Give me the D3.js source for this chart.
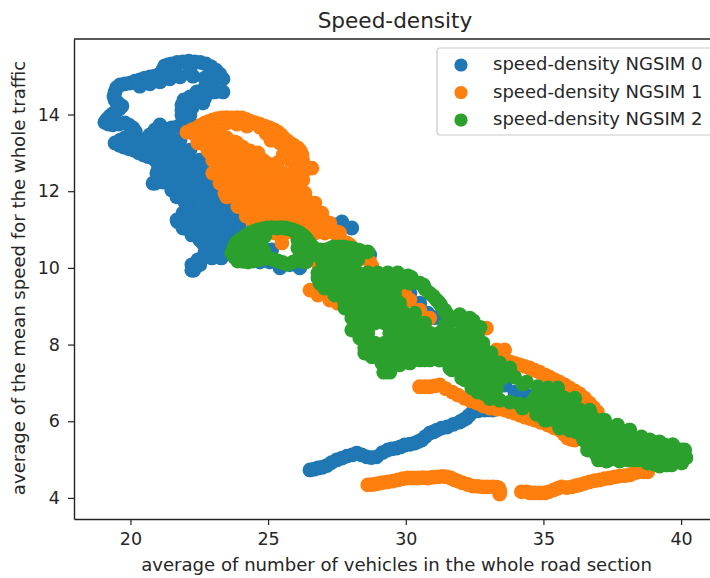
<!DOCTYPE html>
<html><head><meta charset="utf-8">
<script src="https://cdn.jsdelivr.net/npm/d3@7"></script>
<style>
html,body{margin:0;padding:0;background:#fff;overflow:hidden}
text{font-family:"DejaVu Sans",sans-serif;fill:#262626}
</style></head><body><div id="chart"></div>
<script>
const title="Speed-density";
const xLabel="average of number of vehicles in the whole road section";
const yLabel="average of the mean speed for the whole traffic";
const seriesNames=["speed-density NGSIM 0","speed-density NGSIM 1","speed-density NGSIM 2"];
const seriesColors=["#1f77b4","#ff7f0e","#2ca02c"];
const xTicks=[20,25,30,35,40];
const yTicks=[4,6,8,10,12,14];
const xDomain=[17.95,41.05];
const yDomain=[3.45,15.97];

const ngsim0=[[23.36,14.93],[23.1,15.16],[22.74,15.32],[22.34,15.37],[21.91,15.37],[21.51,15.32],[21.25,15.27],[21.07,15.06],[20.71,14.98],[20.34,14.9],[19.98,14.82],[19.62,14.77],[19.44,14.59],[19.44,14.38],[19.69,14.22],[19.47,14.07],[19.26,13.96],[19.07,13.8],[19.36,13.73],[19.8,13.78],[20.09,13.65],[20.2,13.44],[19.8,13.39],[19.44,13.26],[19.76,13.15],[20.13,13.07],[20.49,12.94],[20.82,12.86],[21,12.55],[20.89,12.21],
[23.25,15.05],[22.92,15.25],[22.54,15.36],[22.12,15.39],[21.7,15.36],[21.38,15.3],[21.18,15.17],[20.88,15],[20.52,14.95],[20.16,14.87],[19.8,14.8],[19.5,14.7],[19.4,14.48],[19.55,14.3],[19.6,14.15],[19.36,14.02],[19.15,13.88],[19.2,13.75],[19.58,13.75],[19.95,13.72],[20.18,13.55],[20,13.42],[19.62,13.33],[19.6,13.2],[19.95,13.11],[20.3,13],[20.65,12.9],
[21.07,13.6],[21.5,13.65],[21.98,13.86],[21.87,14.12],[21.94,14.38],[22.38,14.43],[22.67,14.59],[23.07,14.59],[23.36,14.59],[20.34,14.74],[20.71,14.8],[21.07,14.85],[21.43,14.93],[21.8,14.98],[22.27,15],[22.7,14.95],[23,14.85],[22.7,14.7],[22.16,15.21],[21.61,15.16],[21.9,13.98],[21.9,14.25],[22.15,14.42],[22.5,14.5],[22.9,14.6],[21.3,13.62],[21.75,13.7],
[22.41,14.59],[22.16,14.46],[22.7,14.43],[23,14.59],[22.63,14.3],[22.23,14.17],[21.87,14.25],[22.12,14.25],[21.87,13.99],[22.16,13.99],[21.91,13.73],[22.23,13.73],[19.8,13.33],[20.16,13.33],[20.53,13.28],[20.89,13.6],[21.07,13.73],[20.71,13.47],
[20.82,13.33],[21.18,13.33],[21.54,13.33],[21.8,13.33],[20.71,13.07],[21.07,13.07],[21.43,13.07],[21.8,13.07],[22.16,13.07],[21.07,12.81],[21.43,12.81],[21.8,12.81],[22.16,12.81],[22.52,12.81],[22.89,12.81],[23.07,12.81],[21.25,12.55],[21.61,12.55],[21.98,12.55],[22.34,12.55],[22.7,12.55],[23,12.55],[21.25,12.29],[21.61,12.29],[21.98,12.29],[22.34,12.29],[22.7,12.29],[23.07,12.29],[21.5,12.03],[21.87,12.03],[22.23,12.03],[22.6,12.03],[22.96,12.03],[23.25,12.03],[21.8,11.87],[22.16,11.85],[22.52,11.85],[22.89,11.85],[23.25,11.85],[23.61,11.85],[23.97,11.85],[22.16,11.64],[22.52,11.64],[22.89,11.64],[23.25,11.64],[23.61,11.64],[23.97,11.64],[21.98,11.38],[22.34,11.38],[22.7,11.38],[23.07,11.38],[23.43,11.38],[23.79,11.38],[21.72,11.2],[22.16,11.2],[22.52,11.2],[22.89,11.2],[23.25,11.2],[23.61,11.2],[24,11.2],[22.16,10.99],[22.52,10.99],[22.89,10.99],[23.25,10.99],[23.61,10.99],[23.97,10.99],[22.52,10.73],[22.89,10.73],[23.25,10.73],[23.61,10.73],[22.74,10.47],[23.1,10.47],[23.4,10.47],[22.63,10.26],[22.96,10.26],[23.3,10.26],[22.23,10.08],[22.52,10.08],[22.3,9.94],
[20.96,12.76],[20.96,12.47],[20.82,12.21],[21.18,12.24],[21.69,11.85],[21.98,11.72],[21.91,11.43],[21.69,11.25],[21.91,11.04],[22.23,10.86],[22.63,10.65],[22.7,10.39],[22.45,10.21],[22.23,9.94],
[24.7,10.15],[25.06,10.15],[25.43,10],[25.79,10.08],[26.15,10],[25.13,10.47],[27.42,11.12],[27.68,11.2],[28.04,11.04],[28.69,10.34],[30.15,9.34],[30.51,9.08],[30.8,8.82],[31.05,8.7],[33.6,6.94],[33.96,6.76],[34.2,6.76],[34.5,6.66],
[33.16,6.29],[32.87,6.29],[32.43,6.24],[32.2,6.08],[31.96,5.98],[31.5,5.85],[31.13,5.77],[30.87,5.69],[30.58,5.51],[30.33,5.43],[29.96,5.38],[29.67,5.3],[29.35,5.25],[28.94,5.07],[28.58,5.07],[28.22,5.17],[27.86,5.09],[27.49,4.99],[27.13,4.84],[26.81,4.78],[26.52,4.73],
[33,6.3],[32.65,6.27],[32.3,6.15],[32.08,6.03],[31.73,5.92],[31.3,5.82],[31,5.72],[30.72,5.6],[30.45,5.47],[30.15,5.4],[29.8,5.33],[29.5,5.28],[29.15,5.18],[28.75,5.05],[28.4,5.12],[28.05,5.12],[27.68,5.04],[27.3,4.92],[26.97,4.8],[26.67,4.75],[32.5,6.38],[32.8,6.42]];

const ngsim1=[[22.05,13.54],[22.41,13.65],[22.7,13.78],[22.99,13.86],[23.32,13.91],[23.68,13.91],[24.05,13.91],[24.34,13.83],[24.7,13.75],[25.06,13.65],[25.36,13.54],[25.57,13.39],[25.79,13.26],[26.08,13.13],[26.23,12.95],[26.23,12.68],[26.59,12.6],[25.54,12.94],
[22.23,13.6],[22.55,13.72],[22.85,13.82],[23.15,13.89],[23.5,13.92],[23.87,13.92],[24.2,13.87],[24.52,13.79],[24.88,13.7],[25.22,13.6],[25.47,13.47],[25.68,13.32],[25.93,13.2],[26.17,13.05],[26.25,12.82],[26.4,12.63],
[23.5,13.39],[23.79,13.28],[24.08,13.15],[24.34,13.05],[24.6,12.92],[24.81,12.81],[24.96,12.63],[25.25,12.5],[23.5,13.78],[23.87,13.75],[24.23,13.7],[24.7,13.67],[24.92,13.52],[25.1,13.33],[25.43,13.26],[25.79,13.07],[25.57,12.89],[25.79,12.81],[26.04,13],[26.04,12.68],
[22.27,13.52],[22.63,13.52],[23,13.52],[23.25,13.52],[22.45,13.26],[22.8,13.26],[23.16,13.26],[23.5,13.26],[23.87,13.26],[22.89,13],[23.25,13],[23.61,13],[23.97,13],[24.34,13],[24.63,13],[23.14,12.73],[23.5,12.73],[23.87,12.73],[24.23,12.73],[24.6,12.73],[24.96,12.73],[25.32,12.73],[22.99,12.47],[23.35,12.47],[23.72,12.47],[24.08,12.47],[24.45,12.47],[24.81,12.47],[25.17,12.47],[25.54,12.47],[25.9,12.47],[26.26,12.47],[23.25,12.21],[23.61,12.21],[23.97,12.21],[24.34,12.21],[24.7,12.21],[25.06,12.21],[25.43,12.21],[25.79,12.21],[26.15,12.21],[23.43,11.95],[23.79,11.95],[24.16,11.95],[24.52,11.95],[24.88,11.95],[25.25,11.95],[25.61,11.95],[25.97,11.95],[26.34,11.95],[23.97,11.69],[24.34,11.69],[24.7,11.69],[25.06,11.69],[25.43,11.69],[25.79,11.69],[26.15,11.69],[26.52,11.69],[26.7,11.69],[24.23,11.43],[24.6,11.43],[24.96,11.43],[25.32,11.43],[25.68,11.43],[26.05,11.43],[26.41,11.43],[26.77,11.43],[26.95,11.43],[24.45,11.17],[24.81,11.17],[25.17,11.17],[25.54,11.17],[25.9,11.17],[26.26,11.17],[26.63,11.17],[26.99,11.17],[27.24,11.17],[24.52,10.91],[24.88,10.91],[25.25,10.91],[25.61,10.91],[25.97,10.91],[26.34,10.91],[26.7,10.91],[27.06,10.91],[27.42,10.91],[27.6,10.91],
[26.26,12.29],[26.3,11.85],[26.73,11.51],[27.1,11.2],[27.5,10.94],[27.86,10.65],[22.45,13.33],[22.81,13.07],[22.99,12.81],[23.5,11.85],[23.9,11.6],[24.2,11.35],
[25.5,10.65],[27.6,10.73],[27.97,10.6],[28.33,10.34],[28.69,10.16],[28.77,10.05],[26.77,10.15],[27.42,10],[26.52,9.42],[26.81,9.29],[27.24,9.16],[27.53,9.08],[26.95,9.68],[29.17,9.42],[29.96,9.34],[30.15,9.16],[30.51,8.9],[30.87,8.69],[30.03,7.95],[32.93,8.43],[33.3,7.86],[33.59,7.86],[33.6,7.52],
[33.78,7.55],[34.14,7.47],[34.5,7.39],[34.86,7.28],[35.23,7.15],[35.59,7.02],[35.95,6.87],[36.32,6.71],[36.68,6.47],[36.96,6.24],[33.96,7.51],[34.32,7.43],[34.68,7.33],[35.05,7.21],[35.41,7.08],[35.77,6.95],[36.14,6.79],[36.5,6.6],[36.82,6.36],
[30.5,6.9],[30.87,6.9],[31.23,6.95],[31.69,6.76],[32.14,6.6],[32.6,6.47],[33.05,6.34],[33.6,6.29],[33.96,6.21],[34.32,6.11],[34.68,6.03],[35.16,5.9],[35.59,5.77],[35.88,5.56],[36.14,5.51],[30.68,6.9],[31.05,6.92],[31.45,6.85],[31.9,6.68],[32.37,6.53],[32.82,6.4],[33.3,6.31],[33.78,6.25],[34.14,6.16],[34.5,6.07],[34.9,5.97],[35.38,5.83],[35.75,5.66],[36,5.53],
[38.79,4.68],[38.49,4.68],[38.13,4.6],[37.77,4.57],[37.41,4.52],[37.04,4.47],[36.68,4.42],[36.32,4.34],[36.03,4.29],[35.66,4.29],[35.38,4.21],[35.05,4.13],[34.68,4.13],[34.39,4.16],[34.2,4.16],[38.64,4.68],[38.3,4.65],[37.95,4.58],[37.6,4.55],[37.22,4.5],[36.86,4.45],[36.5,4.38],[36.18,4.32],[35.85,4.27],[35.52,4.25],[35.2,4.16],[34.86,4.13],[34.52,4.13],
[28.62,4.34],[28.98,4.37],[29.35,4.42],[29.71,4.47],[30.07,4.52],[30.44,4.52],[30.8,4.52],[31.16,4.55],[31.49,4.55],[31.78,4.47],[32.07,4.39],[32.43,4.31],[32.8,4.29],[33.16,4.29],[33.38,4.26],[33.41,4.1],[28.8,4.35],[29.16,4.4],[29.53,4.44],[29.89,4.5],[30.25,4.52],[30.62,4.53],[30.98,4.54],[31.33,4.56],[31.64,4.52],[31.92,4.43],[32.25,4.35],[32.62,4.3],[32.98,4.29],[33.3,4.28],[33.42,4.18]];

const ngsim2=[[23.68,10.39],[23.83,10.65],[24.08,10.78],[24.34,10.91],[24.63,10.99],[24.96,11.04],[25.32,11.04],[25.61,11.04],[25.9,10.99],[26.15,10.91],[26.37,10.78],[26.52,10.63],[26.73,10.47],[27.1,10.47],[27.38,10.55],[27.75,10.55],[28.11,10.5],[28.47,10.42],[28.62,10.42],[28.26,10.21],[27.9,10.13],
[23.75,10.52],[23.95,10.72],[24.2,10.85],[24.48,10.95],[24.8,11.02],[25.14,11.05],[25.47,11.05],[25.76,11.02],[26.03,10.95],[26.27,10.85],[26.45,10.7],[26.62,10.55],[26.9,10.47],[27.24,10.5],[27.56,10.55],[27.93,10.52],[28.3,10.46],[24.1,10.17],[24.45,10.18],[24.82,10.24],[25.18,10.22],[25.52,10.14],[25.9,10.15],[26.22,10.18],[23.78,10.28],
[23.9,10.18],[24.27,10.15],[24.63,10.21],[25,10.26],[25.35,10.18],[25.7,10.1],[26.08,10.21],[26.37,10.15],[24.16,10.47],[24.52,10.6],[24.77,10.73],[24.52,10.42],[24.88,10.83],[26.08,10.73],[26.08,10.52],[26.26,10.42],[26.59,10.34],[26.95,10.21],[24.3,10.35],[24.85,10.45],[24.8,10.4],
[27.24,10.08],[27.6,10.08],[27.97,10.08],[26.81,9.87],[27.17,9.87],[27.53,9.87],[27.9,9.87],[28.26,9.87],[28.62,9.87],[28.98,9.87],[29.35,9.87],[29.71,9.87],[30.08,9.79],[27,10.1],[27.3,10.25],[27.7,10.28],[28.05,10.28],
[26.88,9.6],[27.24,9.6],[27.6,9.6],[27.97,9.6],[28.33,9.6],[28.69,9.6],[29.06,9.6],[29.42,9.6],[29.78,9.6],[30.15,9.6],[30.51,9.6],
[27.42,9.34],[27.78,9.34],[28.15,9.34],[28.51,9.34],[28.87,9.34],[29.24,9.34],[29.6,9.34],[30.87,9.34],[31.12,9.16],[31.41,8.9],[31.6,8.69],[30.7,9.45],[31,9.26],[31.27,9.03],[31.5,8.8],
[27.78,9.08],[28.15,9.08],[28.51,9.08],[28.87,9.08],[29.24,9.08],[29.6,9.08],[29.78,9.08],
[28.15,8.82],[28.51,8.82],[28.87,8.82],[29.24,8.82],[29.6,8.82],[29.96,8.82],[30.33,8.82],
[28.15,8.56],[28.51,8.56],[28.87,8.56],[29.24,8.56],[29.6,8.56],[29.96,8.56],[30.33,8.56],[30.69,8.56],[31.41,8.5],[31.78,8.64],[32.14,8.55],[32.5,8.5],[31.96,8.78],[32.32,8.69],[32.7,8.45],
[28.33,8.3],[28.62,8.3],[29.42,8.3],[29.78,8.3],[30.15,8.3],[30.51,8.3],[30.87,8.3],[31.23,8.3],[31.6,8.3],[31.96,8.3],[32.32,8.3],[32.6,8.3],
[28.51,8.04],[28.87,8.04],[29.24,8.04],[29.6,8.04],[29.96,8.04],[30.33,8.04],[30.69,8.04],[31.05,8.04],[31.41,8.04],[31.78,8.04],[32.14,8.04],[32.5,8.04],[32.8,8.04],
[28.51,7.78],[28.87,7.78],[29.24,7.78],[29.6,7.78],[29.96,7.78],[30.33,7.78],[30.69,7.78],[31.05,7.78],[31.41,7.78],[31.78,7.78],[32.14,7.78],[32.5,7.78],[32.87,7.78],[33.1,7.78],
[29.13,7.52],[29.49,7.52],[29.85,7.52],[30.15,7.52],[30.51,7.6],[30.87,7.6],[31.23,7.6],[31.6,7.6],[31.96,7.52],[32.32,7.52],[32.69,7.52],[33.05,7.52],[33.41,7.52],
[31.6,7.39],[31.96,7.39],[32.32,7.39],[32.69,7.39],[33.05,7.39],[33.41,7.39],[33.78,7.39],[29.2,7.28],[29.42,7.28],
[32.03,7.13],[32.4,7.13],[32.76,7.13],[33.12,7.13],[33.49,7.13],[33.96,7.15],[34.39,7.02],[34.79,6.9],
[32.4,6.87],[32.76,6.87],[33.12,6.87],[33.3,6.85],[35.16,6.87],[35.52,6.87],
[33.05,6.6],[33.41,6.55],[33.78,6.5],[34.14,6.45],[34.5,6.45],[34.68,6.6],[35.05,6.6],[35.41,6.6],[35.77,6.6],[36.14,6.6],[32.85,6.72],
[34.86,6.29],[35.23,6.29],[35.59,6.29],[35.95,6.29],[36.32,6.29],[36.68,6.29],
[35.05,6.03],[35.41,6.03],[35.77,6.03],[36.14,6.03],[36.5,6.03],[36.86,6.03],[37.22,6.03],
[35.95,5.77],[36.32,5.77],[36.68,5.77],[37.04,5.77],[37.41,5.77],[37.77,5.77],[38.13,5.77],
[36.48,5.51],[36.86,5.51],[37.22,5.51],[37.59,5.51],[37.95,5.51],[38.31,5.51],[38.68,5.51],[38.86,5.51],[39.22,5.46],[39.7,5.38],
[36.6,5.25],[36.96,5.25],[37.32,5.25],[37.68,5.25],[38.05,5.25],[38.4,5.25],[38.77,5.25],[39.13,5.25],[39.5,5.25],[39.86,5.25],[40.13,5.25],
[37,4.99],[37.36,4.99],[37.72,4.99],[38.08,4.99],[38.45,4.99],[38.8,4.99],[39.17,4.99],[39.53,4.99],[39.9,4.99],[40.17,5.05],[39.04,4.88],[39.47,4.86],[39.86,4.94],
[33.05,7.34],[33.6,7.28],[34.25,6.97],[34.86,6.76],[35.48,6.55],[35.95,6.42],[36.32,6.29],[36.75,6.14],[37.15,6.03],[37.69,5.9],[38.13,5.77],[38.56,5.59],[38.96,5.46],[39.4,5.38],[39.69,5.38],[40.02,5.25],[40.17,5.05],[40.02,4.91],[39.65,4.86],[39.22,4.83],[38.78,4.91],[38.31,4.99],[37.77,4.96],[37.29,4.96],[36.93,5.12],[36.68,5.25],[36.46,5.51],[36.2,5.72],[35.59,5.82],[35.12,6.03],
[26.81,9.74],[27.06,9.47],[27.42,9.29],[27.79,8.95],[28.04,8.69],[28.04,8.38],[28.33,8.17],[28.51,7.91],[28.77,7.68],[29.13,7.55],[29.31,7.29],[29.78,7.47],[30.15,7.55],[30.69,7.6],[31.23,7.6],[31.67,7.34],[32.14,7.08],[32.61,6.76],[33.05,6.6],[34.24,6.34],[34.75,6.18],
[31.2,9.1],[31.45,8.83],[31.9,8.64],[32.45,8.62],[32.6,8.25],[32.75,7.99],[33.05,7.67],[33.32,7.38],[28.2,9],[28.05,8.95],[30.2,9.75],[30.65,9.55]];

const allSeries=[ngsim0,ngsim1,ngsim2];

const width=710,height=578;
const plotLeft=74,plotRight=710,plotTop=39,plotBottom=519;
const x=d3.scaleLinear().domain(xDomain).range([plotLeft,plotRight]);
const y=d3.scaleLinear().domain(yDomain).range([plotBottom,plotTop]);
const svg=d3.select("#chart").append("svg").attr("width",width).attr("height",height);

const plot=svg.append("g");
allSeries.forEach((s,i)=>{
  plot.append("g").attr("fill",seriesColors[i]).selectAll("circle").data(s).join("circle")
    .attr("cx",d=>x(d[0])).attr("cy",d=>y(d[1])).attr("r",7.4);
});

const gx=svg.append("g").attr("transform",`translate(0,${plotBottom})`)
  .call(d3.axisBottom(x).tickValues(xTicks).tickSize(6).tickSizeOuter(0).tickPadding(8));
const gy=svg.append("g").attr("transform",`translate(${plotLeft},0)`)
  .call(d3.axisLeft(y).tickValues(yTicks).tickSize(6).tickSizeOuter(0).tickPadding(8));
[gx,gy].forEach(g=>{
  g.selectAll("text").style("font-size","17.5px").style("font-family",'"DejaVu Sans"').attr("fill","#262626");
  g.selectAll("line").attr("stroke","#222").attr("stroke-width",1.2);
  g.select(".domain").attr("stroke","#222").attr("stroke-width",1.4);
});
svg.append("line").attr("x1",plotLeft).attr("x2",plotRight).attr("y1",plotTop).attr("y2",plotTop).attr("stroke","#222").attr("stroke-width",1.4);

svg.append("text").attr("x",395).attr("y",27.5).attr("text-anchor","middle").style("font-size","21.6px").text(title);
svg.append("text").attr("x",396.5).attr("y",571).attr("text-anchor","middle").style("font-size","18.1px").text(xLabel);
svg.append("text").attr("transform","translate(25,278) rotate(-90)").attr("text-anchor","middle").style("font-size","18.1px").text(yLabel);

const legend=svg.append("g");
legend.append("rect").attr("x",437).attr("y",48).attr("width",290).attr("height",87).attr("rx",3)
  .attr("fill","#fff").attr("fill-opacity",.85).attr("stroke","#ccc").attr("stroke-width",1.2);
const legendY=d3.scalePoint().domain(seriesNames).range([65,120]);
seriesNames.forEach((n,i)=>{
  legend.append("circle").attr("cx",461).attr("cy",legendY(n)).attr("r",6.6).attr("fill",seriesColors[i]);
  legend.append("text").attr("x",493).attr("y",legendY(n)+5.3).style("font-size","18px").text(n);
});
</script></body></html>
